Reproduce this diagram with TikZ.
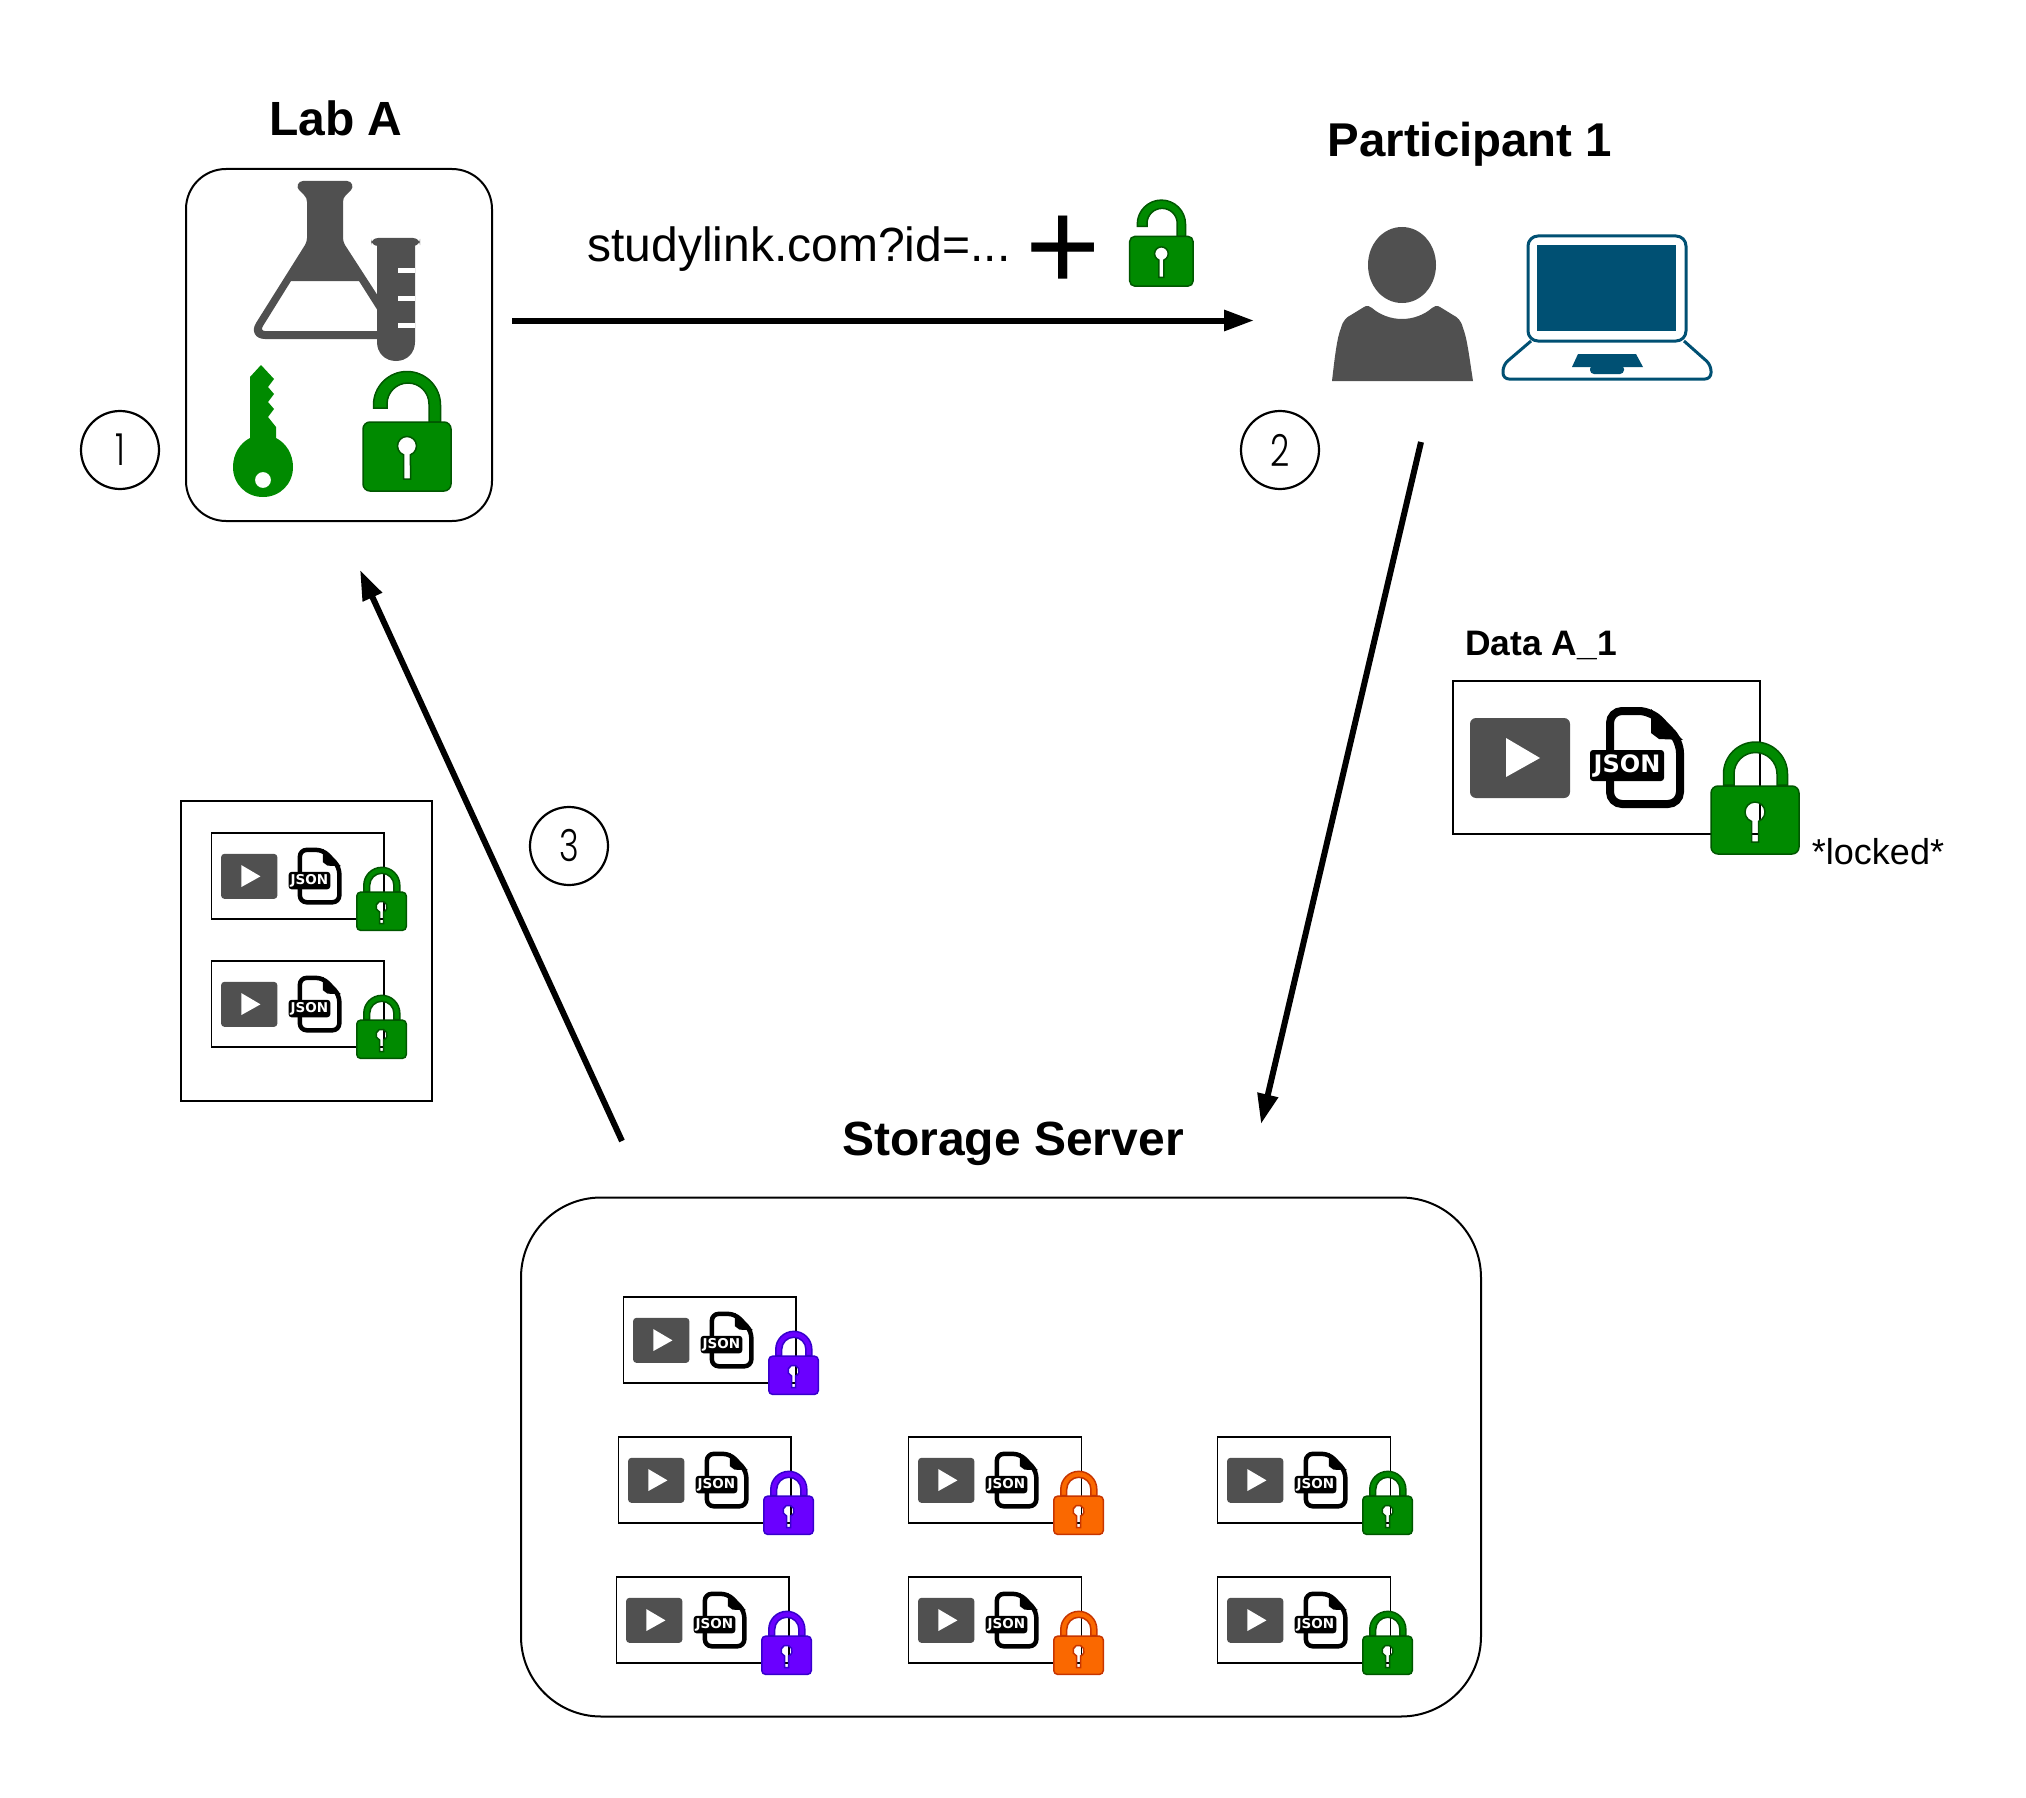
\documentclass[tikz,border=0pt]{standalone}
\usepackage{fontspec}
\setmainfont{Liberation Sans}
\newfontfamily\digitfont{Poppins Light}
\newfontfamily\jsonfont{DejaVu Sans}
\usetikzlibrary{arrows.meta}
\definecolor{iconGray}{HTML}{505050}
\definecolor{lockGreen}{HTML}{008A00}
\definecolor{lockGreenD}{HTML}{005700}
\definecolor{lockPurple}{HTML}{6A00FF}
\definecolor{lockPurpleD}{HTML}{3700CC}
\definecolor{lockOrange}{HTML}{FA6800}
\definecolor{lockOrangeD}{HTML}{C73500}
\definecolor{laptopBlue}{HTML}{005073}
\tikzset{
  titletext/.style={font=\fontsize{24}{24}\selectfont\bfseries,inner sep=0pt},
  plaintext/.style={font=\fontsize{24}{24}\selectfont,inner sep=0pt},
  smalltext/.style={font=\fontsize{18}{18}\selectfont,inner sep=0pt},
  roundbox/.style={draw=black,line width=1pt,fill=white,inner sep=0pt},
  plainbox/.style={draw=black,line width=.85pt,inner sep=0pt},
  stepcircle/.style={circle,draw=black,line width=1.1pt,minimum size=39pt,inner sep=0pt,font=\digitfont\fontsize{21}{21}\selectfont},
  flowarrow/.style={line width=3pt,-{Triangle[length=15pt,width=10pt]}},
  jsontag/.style={transform shape,fill=black,text=white,rounded corners=1.5pt,minimum width=37pt,minimum height=15.5pt,inner sep=0pt,font=\jsonfont\fontsize{12}{12}\selectfont\bfseries}
}
% closed lock, local box 90 x 114
\newcommand{\closedlock}[3]{%
  \path[fill=#2,draw=#3,line width=.75pt,even odd rule]
    (13.5,44) -- (13.5,33) arc[start angle=180,end angle=360,radius=32] -- (77.5,44) -- (67,44) -- (67,33)
    arc[start angle=360,end angle=180,radius=21.5] -- (24,44) -- cycle;
  \path[fill=#2,draw=#3,line width=.75pt,even odd rule]
    {[rounded corners=#1*3.5pt] (1,45) rectangle (89,113)}
    (41.5,101) -- (41.5,80.4) arc[start angle=110.5,end angle=429.5,radius=10] -- (48.5,101) -- cycle;
}
% open lock, local box 90 x 122
\newcommand{\openlock}[1]{%
  \path[fill=lockGreen,draw=lockGreenD,line width=.75pt]
    (11.5,38) -- (11.5,35) arc[start angle=180,end angle=360,radius=33.5] -- (78.5,52) -- (67,52) -- (67,34)
    arc[start angle=360,end angle=180,radius=21] -- (25,38) -- cycle;
  \path[fill=lockGreen,draw=lockGreenD,line width=.75pt,even odd rule]
    {[rounded corners=#1*3.5pt] (1,52) rectangle (89,121)}
    (41.5,109) -- (41.5,84.8) arc[start angle=111.6,end angle=428.4,radius=9.5] -- (48.5,109) -- cycle;
}
% data package: name, x, y, scale, lock fill, lock stroke
\newcommand{\datapack}[6]{%
  \begin{scope}[shift={(#2,#3)},scale=#4]
    \draw[plainbox] (0,0) rectangle (307,153);
    \fill[iconGray,rounded corners=#4*3pt] (17,37) rectangle (117,117);
    \fill[white] (53,57) -- (87,77) -- (53,96) -- cycle;
    \draw[black,line width=#4*4pt,fill=white,rounded corners=#4*6pt] (157,30) -- (198,30) -- (227,60) -- (227,123) -- (157,123) -- cycle;
    \fill[black] (198,28) -- (230,59) -- (206,58) -- (198,52) -- cycle;
    \node[jsontag] (#1) at (174,84.5) {\raisebox{-1pt}{JSON}};
    \begin{scope}[shift={(257,60)}]
      \closedlock{#4}{#5}{#6}
    \end{scope}
  \end{scope}
}
\begin{document}
\begin{tikzpicture}[x=.5pt,y=-.5pt]
\useasboundingbox (0,0) rectangle (2026,1798);
\fill[white] (0,0) rectangle (2026,1798);

% Titles
\node[titletext] (labTitle) at (336,118.5) {Lab A};
\node[titletext,font=\fontsize{23.7}{24}\selectfont\bfseries] (partTitle) at (1470,144) {Participant 1};
\node[titletext] (storeTitle) at (1013,1144) {Storage Server};

% Boxes
\node[roundbox,rounded corners=20pt,minimum width=153pt,minimum height=176pt] (labBox) at (339,345) {};
\node[roundbox,rounded corners=40pt,minimum width=480pt,minimum height=259.5pt] (storeBox) at (1001,1457) {};
\draw[plainbox] (181,801) rectangle (432,1101);

% Flask
\fill[iconGray,even odd rule]
  (303,181) -- (347,181) .. controls (352,181) and (354,187) .. (351,190)
  -- (346,195) .. controls (344,197) and (343,199) .. (343,202) -- (343,238)
  .. controls (343,241) and (344,243) .. (345,245) -- (378,296) -- (378,339)
  -- (265,339) .. controls (255,339) and (251,331) .. (256,323) -- (305,245)
  .. controls (306,243) and (307,241) .. (307,238) -- (307,202)
  .. controls (307,199) and (306,197) .. (304,195) -- (299,190)
  .. controls (296,187) and (298,181) .. (303,181) -- cycle
  (291,281) -- (359,281) -- (378,311) -- (378,331) -- (265,331)
  .. controls (262,331) and (261,329) .. (263,326) -- cycle;
% Tube
\fill[iconGray,rounded corners=3.5pt] (371,238) rectangle (420,246);
\fill[iconGray] (377,244) -- (415,244) -- (415,342)
  .. controls (415,353) and (407,361) .. (396,361)
  .. controls (385,361) and (377,353) .. (377,342) -- cycle;
\fill[white] (398,268) rectangle (415,273);
\fill[white] (398,296) rectangle (415,301);
\fill[white] (398,323) rectangle (415,328);

% Key
\fill[lockGreen,even odd rule]
  (261,365) -- (274,379) -- (268,387) -- (274,394) -- (268,402) -- (274,409) -- (268,417)
  -- (276,427) -- (276,438) .. controls (286,443) and (293,454) .. (293,467)
  .. controls (293,484) and (280,497) .. (263,497)
  .. controls (246,497) and (233,484) .. (233,467)
  .. controls (233,454) and (240,443) .. (250,438) -- (250,377) -- cycle
  (271,480) .. controls (271,484.4) and (267.4,488) .. (263,488)
  .. controls (258.6,488) and (255,484.4) .. (255,480)
  .. controls (255,475.6) and (258.6,472) .. (263,472)
  .. controls (267.4,472) and (271,475.6) .. (271,480) -- cycle;

% Open locks
\begin{scope}[shift={(362,370)}] \openlock{1} \end{scope}
\begin{scope}[shift={(1129,199)},scale=.72] \openlock{.72} \end{scope}

% Link text
\node[plaintext] (linkText) at (799,249) {studylink.com?id=...};
\node[inner sep=0pt,anchor=base,font=\fontsize{64.5}{64.5}\selectfont] (plusSign) at (1063,291) {+};

% Person
\fill[iconGray] (1402,227) .. controls (1421,227) and (1436,244) .. (1436,265)
  .. controls (1436,286) and (1421,303) .. (1402,303)
  .. controls (1383,303) and (1368,286) .. (1368,265)
  .. controls (1368,244) and (1383,227) .. (1402,227) -- cycle;
\fill[iconGray] (1332,381) .. controls (1335,355) and (1337,338) .. (1341,328)
  .. controls (1343,320) and (1347,317) .. (1351,315) -- (1364,307)
  .. controls (1367,305) and (1370,306) .. (1372,308)
  .. controls (1380,315) and (1391,319) .. (1402,319)
  .. controls (1413,319) and (1424,315) .. (1432,308)
  .. controls (1434,306) and (1437,305) .. (1440,307) -- (1453,315)
  .. controls (1457,317) and (1461,320) .. (1463,328)
  .. controls (1467,338) and (1469,355) .. (1473,381) -- cycle;

% Laptop
\draw[laptopBlue,line width=1.5pt,rounded corners=5pt] (1528,236) rectangle (1686,341);
\fill[laptopBlue] (1537,245) rectangle (1676,331);
\draw[laptopBlue,line width=1.5pt,rounded corners=3pt] (1531,341) -- (1503,365) -- (1503,379) -- (1711,379) -- (1711,365) -- (1684,341);
\fill[laptopBlue] (1578,354) -- (1636,354) -- (1643,367) -- (1572,367) -- cycle;
\fill[laptopBlue,rounded corners=2pt] (1590,365) -- (1624,365) -- (1624,374) -- (1590,374) -- cycle;

% Data packages
\datapack{bigJson}{1453}{681}{1}{lockGreen}{lockGreenD}
\datapack{labJsonA}{211.5}{833}{.563}{lockGreen}{lockGreenD}
\datapack{labJsonB}{211.5}{961}{.563}{lockGreen}{lockGreenD}
\datapack{storeP1}{623.5}{1297}{.563}{lockPurple}{lockPurpleD}
\datapack{storeP2}{618.5}{1437}{.563}{lockPurple}{lockPurpleD}
\datapack{storeP3}{616.5}{1577}{.563}{lockPurple}{lockPurpleD}
\datapack{storeO1}{908.5}{1437}{.563}{lockOrange}{lockOrangeD}
\datapack{storeO2}{908.5}{1577}{.563}{lockOrange}{lockOrangeD}
\datapack{storeG1}{1217.5}{1437}{.563}{lockGreen}{lockGreenD}
\datapack{storeG2}{1217.5}{1577}{.563}{lockGreen}{lockGreenD}

\node[smalltext,font=\fontsize{17.7}{18}\selectfont\bfseries] (dataTitle) at (1541,645) {Data A\_1};
\node[smalltext] (lockedText) at (1878,852) {*locked*};

% Step circles
\node[stepcircle] (stepOne) at (120,450) {\scalebox{.8}[1.05]{1}};
\node[stepcircle] (stepTwo) at (1280,450) {\scalebox{.8}[1.05]{2}};
\node[stepcircle] (stepThree) at (569,846) {\scalebox{.8}[1.05]{3}};

% Connectors
\coordinate (sendStart) at (512,320.5);
\coordinate (sendEnd) at (1254,320.5);
\coordinate (uploadStart) at (1421,442);
\coordinate (uploadEnd) at (1261,1124);
\coordinate (fetchStart) at (622,1141);
\coordinate (fetchEnd) at (360,570);
\draw[flowarrow] (sendStart) -- (sendEnd);
\draw[flowarrow] (uploadStart) -- (uploadEnd);
\draw[flowarrow] (fetchStart) -- (fetchEnd);
\end{tikzpicture}
\end{document}
